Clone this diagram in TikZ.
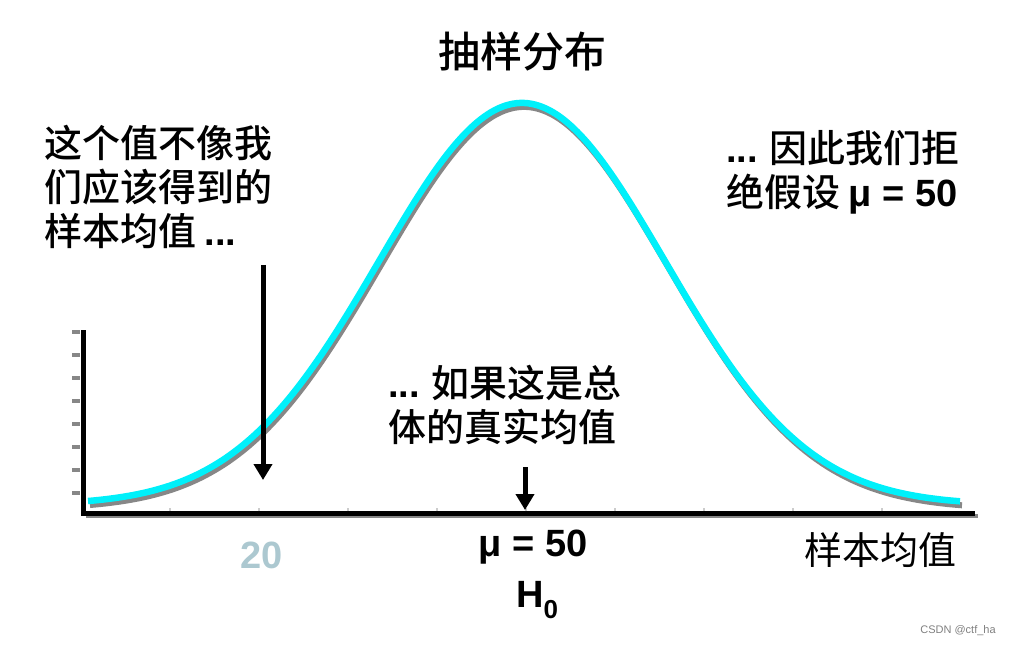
\documentclass[tikz,border=0pt]{standalone}
\usepackage{fontspec}
\setmainfont{Liberation Sans}
\newfontfamily\cjk{Noto Sans CJK SC Medium}
\newfontfamily\cjkplain{Noto Sans CJK SC}
\usetikzlibrary{arrows.meta}

\definecolor{curvecyan}{RGB}{0,240,250}
\definecolor{shadowgray}{RGB}{135,135,135}
\definecolor{paleblue}{RGB}{172,200,208}
\newcommand\latbit[1]{{\normalfont\bfseries #1}}

\begin{document}
\begin{tikzpicture}[x=1pt,y=1pt,
  note/.style={font=\cjk\fontsize{38}{44}\selectfont,align=left,inner sep=0pt},
  big/.style={font=\bfseries\fontsize{38}{38}\selectfont,inner sep=0pt},
  axisline/.style={line width=5pt},
  ptr/.style={line width=5pt,-{Triangle[length=16pt,width=18pt]}}]
  \useasboundingbox (0,0) rectangle (1011,646);
  % axes
  \draw[shadowgray,line width=4pt] (86,130) -- (978,130);
  \draw[axisline] (83,316) -- (83,133) -- (975,133);
  \foreach \t in {153,176,...,314}
    \draw[shadowgray,line width=3.5pt] (72,\t) -- (80,\t);
  \foreach \t in {170,259,...,884}
    \draw[gray!40,line width=1.5pt] (\t,135) -- (\t,138);
  % sampling curve
  \draw[shadowgray,line width=6pt,shift={(2,-4)}] plot[domain=88:960,samples=120,smooth]
    (\x,{141+402*exp(-((\x-522)/143)^2/2)});
  \draw[curvecyan,line width=6.5pt] plot[domain=88:960,samples=120,smooth]
    (\x,{141+402*exp(-((\x-522)/143)^2/2)});
  % texts
  \node[font=\cjk\fontsize{42}{42}\selectfont] (title) at (522,594) {抽样分布};
  \node[note,anchor=west] (leftnote) at (44,459) {这个值不像我\\们应该得到的\\样本均值 \latbit{...}};
  \node[note,anchor=west] (rightnote) at (726,474) {\latbit{...} 因此我们拒\\绝假设 \latbit{μ = 50}};
  \node[note,anchor=west] (midnote) at (388,241) {\latbit{...} 如果这是总\\体的真实均值};
  \node[big,text=paleblue] (lab20) at (262,91) {20};
  \node[big] (mu) at (533,99) {μ = 50};
  \node[big] (hnull) at (537,46) {H\raisebox{-0.3em}{\fontsize{26}{26}\selectfont 0}};
  \node[font=\cjkplain\fontsize{38}{38}\selectfont] (xlabel) at (880,96) {样本均值};
  \node[font=\fontsize{11}{11}\selectfont,text=gray] (mark) at (958,15) {CSDN @ctf\_ha};
  % pointers
  \coordinate (top20) at (263,381);
  \coordinate (at20) at (263,166);
  \draw[ptr] (top20) -- (at20);
  \coordinate (topmu) at (525,179);
  \coordinate (atmu) at (525,136);
  \draw[ptr] (topmu) -- (atmu);
\end{tikzpicture}
\end{document}
